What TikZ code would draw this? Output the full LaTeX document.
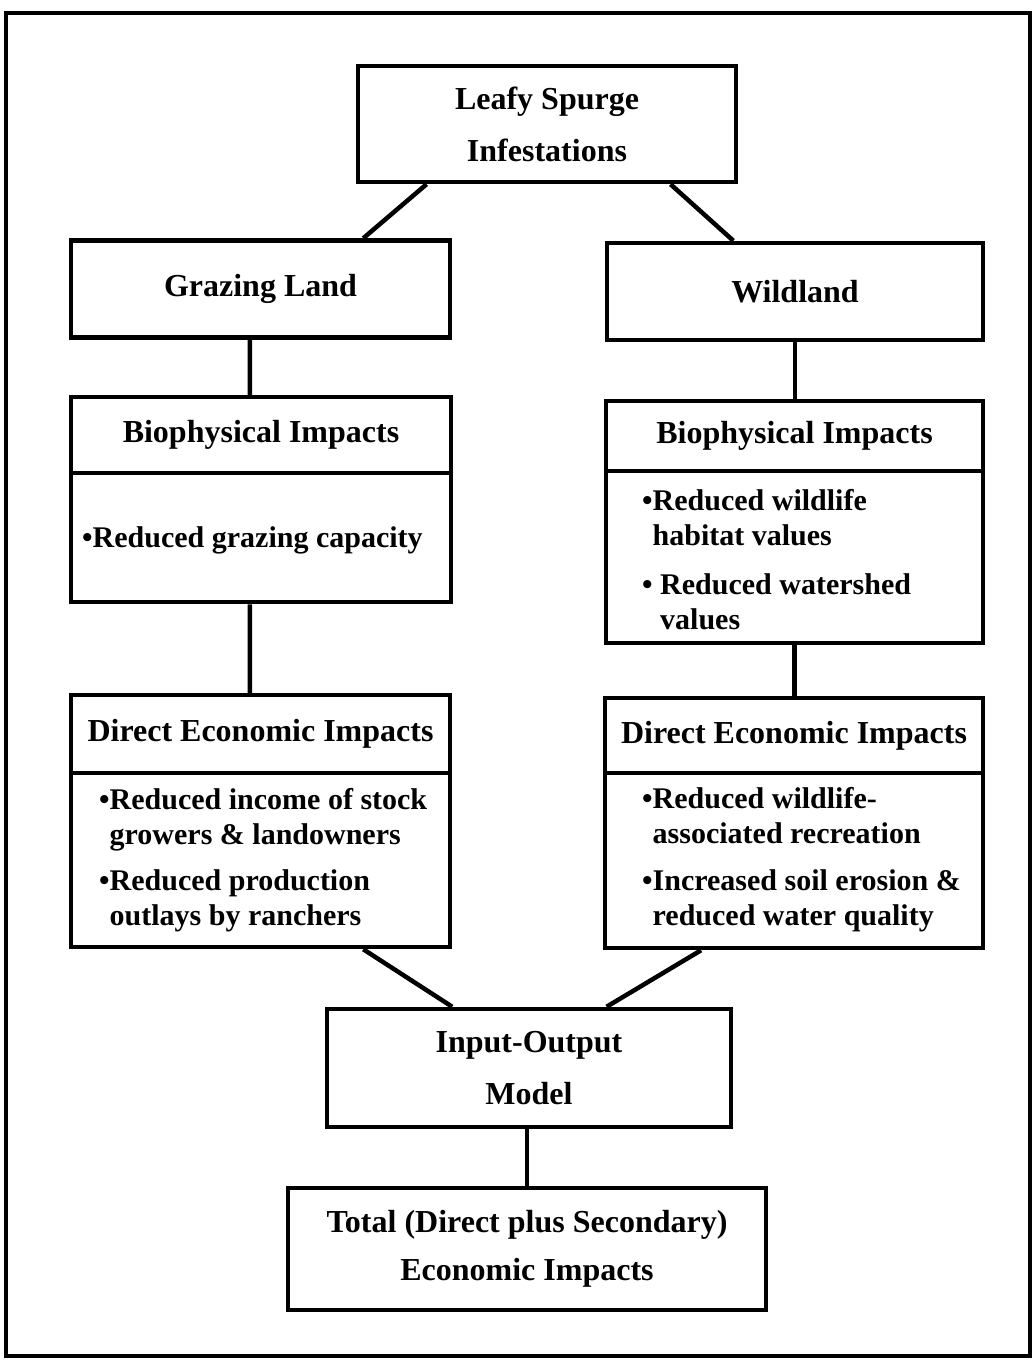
\documentclass[tikz,border=0pt]{standalone}
\usepackage{fontspec}
\setmainfont{Liberation Serif}
\usetikzlibrary{calc}
\begin{document}
\begin{tikzpicture}[x=1pt,y=-1pt,
  box/.style={draw, line width=4.5pt, inner sep=0pt, align=center,
    font=\fontsize{32}{52}\selectfont\bfseries},
  bodytext/.style={anchor=west, inner sep=0pt, align=left,
    font=\fontsize{30}{35}\selectfont\bfseries},
  link/.style={line width=4.5pt}]
\useasboundingbox (0,0) rectangle (1033,1360);
\draw[line width=4pt] (6,13) rectangle (1030,1356);
% boxes
\node[box, minimum width=378pt, minimum height=116pt] (leafy) at (547,124) {Leafy Spurge\\Infestations};
\node[box, minimum width=379pt, minimum height=97pt] (graz) at (260.5,289) {Grazing Land};
\node[box, minimum width=376pt, minimum height=97pt] (wild) at (795,291.5) {Wildland};
\node[box, minimum width=380pt, minimum height=76pt] (bioLh) at (261,435) {Biophysical Impacts};
\node[box, minimum width=380pt, minimum height=129pt] (bioLb) at (261,537.5) {};
\node[box, minimum width=377pt, minimum height=70pt] (bioRh) at (794.5,436) {Biophysical Impacts};
\node[box, minimum width=377pt, minimum height=172pt] (bioRb) at (794.5,557) {};
\node[box, minimum width=379pt, minimum height=78pt] (deiLh) at (260.5,734) {Direct Economic Impacts};
\node[box, minimum width=379pt, minimum height=174pt] (deiLb) at (260.5,860) {};
\node[box, minimum width=378pt, minimum height=75pt] (deiRh) at (794,735.5) {Direct Economic Impacts};
\node[box, minimum width=378pt, minimum height=175pt] (deiRb) at (794,860.5) {};
\node[box, minimum width=404pt, minimum height=118pt] (io) at (529,1068) {Input-Output\\Model};
\node[box, minimum width=478pt, minimum height=122pt, font=\fontsize{32}{48}\selectfont\bfseries] (total) at (527,1249) {Total (Direct plus Secondary)\\Economic Impacts};
% body texts
\node[bodytext] (tBioL) at (82,540) {\textbullet Reduced grazing capacity};
\node[bodytext] (tBioR) at (642,560) {\textbullet Reduced wildlife\\\phantom{\textbullet}habitat values\\[14pt]\textbullet\ Reduced watershed\\\phantom{\textbullet\ }values};
\node[bodytext] (tDeiL) at (99,860) {\textbullet Reduced income of stock\\\phantom{\textbullet}growers \& landowners\\[11pt]\textbullet Reduced production\\\phantom{\textbullet}outlays by ranchers};
\node[bodytext] (tDeiR) at (642,860) {\textbullet Reduced wildlife-\\\phantom{\textbullet}associated recreation\\[12pt]\textbullet Increased soil erosion \&\\\phantom{\textbullet}reduced water quality};
% connectors
\draw[link] ($(leafy.south west)!0.185!(leafy.south east)$) -- ($(graz.north west)!0.768!(graz.north east)$);
\draw[link] ($(leafy.south west)!0.823!(leafy.south east)$) -- ($(wild.north west)!0.338!(wild.north east)$);
\draw[link] ($(graz.south west)!0.472!(graz.south east)$) -- ($(bioLh.north west)!0.471!(bioLh.north east)$);
\draw[link] (wild.south) -- (wild.south |- bioRh.north);
\draw[link] ($(bioLb.south west)!0.471!(bioLb.south east)$) -- ($(deiLh.north west)!0.472!(deiLh.north east)$);
\draw[link] (bioRb.south) -- (bioRb.south |- deiRh.north);
\draw[link] ($(deiLb.south west)!0.768!(deiLb.south east)$) -- ($(io.north west)!0.312!(io.north east)$);
\draw[link] ($(deiRb.south west)!0.257!(deiRb.south east)$) -- ($(io.north west)!0.69!(io.north east)$);
\draw[link] (io.south -| total.north) -- (total.north);
\end{tikzpicture}
\end{document}
